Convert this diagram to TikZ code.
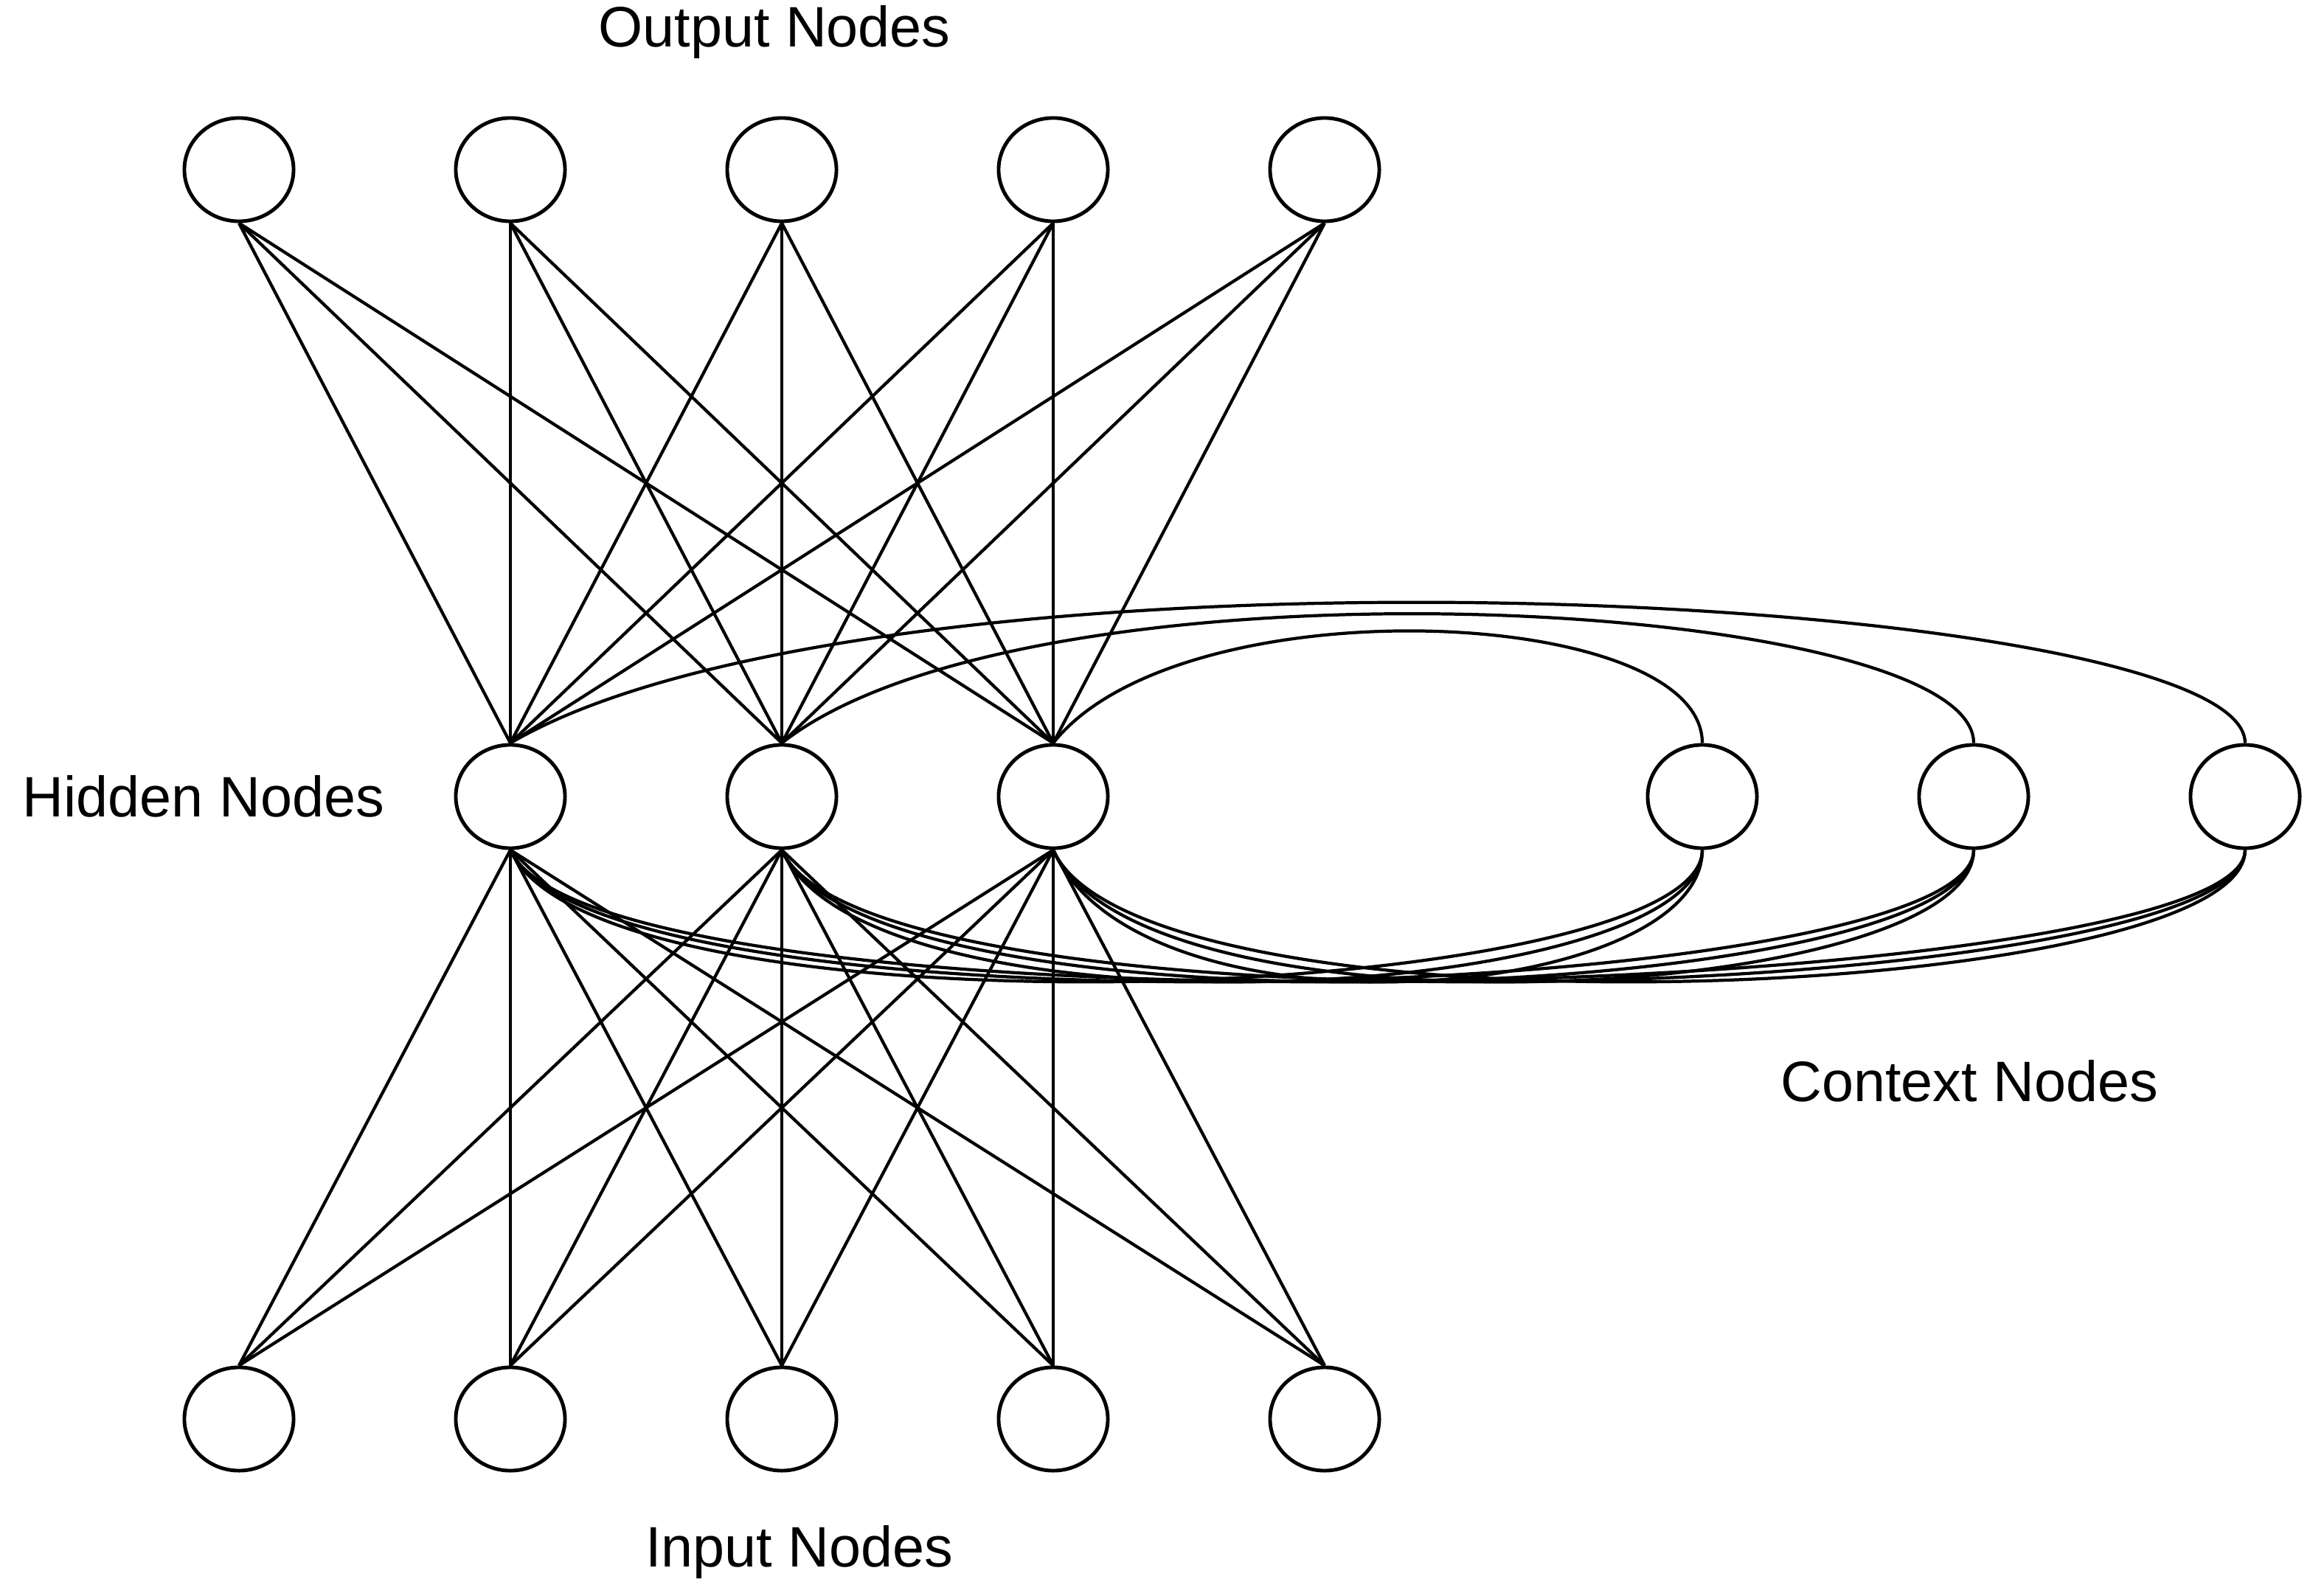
\documentclass[tikz,border=0pt]{standalone}
\usepackage{fontspec}
\setmainfont{Liberation Sans}
\usetikzlibrary{shapes.geometric}
\begin{document}
\begin{tikzpicture}[x=0.01cm,y=-0.01cm,
  nd/.style={draw,ellipse,minimum width=0.74cm,minimum height=0.70cm,line width=0.7pt},
  ln/.style={line width=0.6pt},
  lbl/.style={font=\fontsize{11}{13}\selectfont}]
\useasboundingbox (0,0) rectangle (1566,1082);
\foreach \i/\x in {1/162,2/346,3/530,4/714,5/898}{
  \node[nd] (o\i) at (\x,115) {};
  \node[nd] (i\i) at (\x,962) {};
}
\foreach \i/\x in {1/346,2/530,3/714}{ \node[nd] (h\i) at (\x,540) {}; }
\foreach \i/\x in {1/1154,2/1338,3/1522}{ \node[nd] (c\i) at (\x,540) {}; }
\foreach \o in {1,...,5}{\foreach \h in {1,2,3}{
  \draw[ln] (o\o.south) -- (h\h.north);
  \draw[ln] (i\o.north) -- (h\h.south);
}}
\draw[ln] (c1.north) .. controls (1154,410) and (800,395) .. (h3.north);
\draw[ln] (c2.north) .. controls (1338,405) and (700,370) .. (h2.north);
\draw[ln] (c3.north) .. controls (1522,400) and (600,355) .. (h1.north);
\foreach \c/\cx in {1/1154,2/1338,3/1522}{
  \foreach \h/\hx in {1/346,2/530,3/714}{
    \draw[ln] (c\c.south) .. controls (\cx,680) and (\hx+60,710) .. (h\h.south);
  }}
\node[lbl] (t1) at (525,22) {Output Nodes};
\node[lbl] (t2) at (138,540) {Hidden Nodes};
\node[lbl] (t3) at (1335,733) {Context Nodes};
\node[lbl] (t4) at (542,1052) {Input Nodes};
\end{tikzpicture}
\end{document}
